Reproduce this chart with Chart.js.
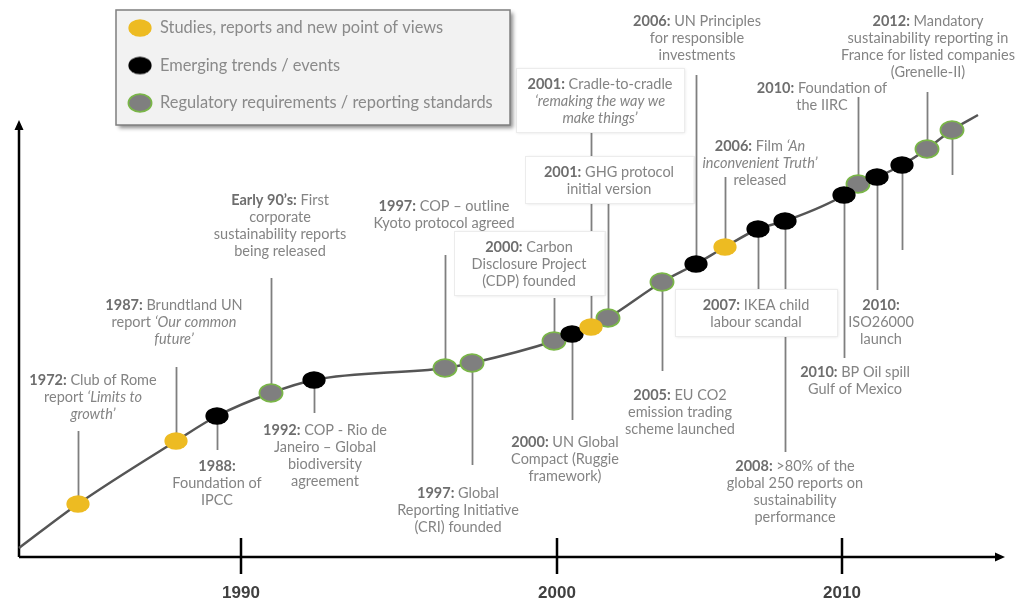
<!DOCTYPE html>
<html><head><meta charset="utf-8">
<script src="https://cdn.jsdelivr.net/npm/chart.js@4.4.1/dist/chart.umd.min.js"></script>
<style>html,body{margin:0;padding:0;background:#fff}#wrap{width:1035px;height:608px;position:relative}</style>
</head><body><div id="wrap"><canvas id="c"></canvas></div>
<script>
// ---------------- DATA ----------------
const categories = [
  'Studies, reports and new point of views',
  'Emerging trends / events',
  'Regulatory requirements / reporting standards'
];
const tickPositions = [222, 538, 823];
const tickLabels = ['1990', '2000', '2010'];

// position along the timeline and level on the curve for each event
const eventPosition = [59,157,198,252,295,426,453,535,553,572,589,643,677,706,739,766,825,839,858,883,908,933];
const eventLevel    = [53,116,141,164,177,189,194,216,223,230,239,275,293,310,328,336,362,373,380,392,408,427];
const eventType     = [0,0,1,2,1,2,2,2,1,0,2,2,1,0,1,1,1,2,1,1,2,2];
const leaderLevel   = [126,190,107,279,144,302,92,259,137,425,354,186,482,380,267,105,199,460,267,307,465,382];
const eventLabel = [
  ['**1972:** Club of Rome', 'report _‘Limits to_', '_growth’_'],
  ['**1987:** Brundtland UN', 'report _‘Our common_', '_future’_'],
  ['**1988:**', 'Foundation of', 'IPCC'],
  ['**Early 90’s:** First', 'corporate', 'sustainability reports', 'being released'],
  ['**1992:** COP - Rio de', 'Janeiro – Global', 'biodiversity', 'agreement'],
  ['**1997:** COP – outline', 'Kyoto protocol agreed'],
  ['**1997:** Global', 'Reporting Initiative', '(CRI) founded'],
  ['**2000:** Carbon', 'Disclosure Project', '(CDP) founded'],
  ['**2000:** UN Global', 'Compact (Ruggie', 'framework)'],
  ['**2001:** Cradle-to-cradle', '_‘remaking the way we_', '_make things’_'],
  ['**2001:** GHG protocol', 'initial version'],
  ['**2005:** EU CO2', 'emission trading', 'scheme launched'],
  ['**2006:** UN Principles', 'for responsible', 'investments'],
  ['**2006:** Film _‘An_', '_inconvenient Truth’_', 'released'],
  ['**2007:** IKEA child', 'labour scandal'],
  ['**2008:** >80% of the', 'global 250 reports on', 'sustainability', 'performance'],
  ['**2010:** BP Oil spill', 'Gulf of Mexico'],
  ['**2010:** Foundation of', 'the IIRC'],
  ['**2010:**', 'ISO26000', 'launch'],
  null,
  ['**2012:** Mandatory', 'sustainability reporting in', 'France for listed companies', '(Grenelle-II)'],
  null
];
const curveStart = [0, 9];
const curveEnd = [959, 442];

// ---------------- LAYOUT / STYLE ----------------
const labelAnchor = [
  [74,177],[155,252],[198,91],[261,357],[306,127],[425,351],[439,64],[510,310],[546,115],
  [581,473],[590,385],[661,162],[678,536],[741,411],[737,252],[776,91],[836,185],[803,469],
  [862,252],null,[909,536],null
];
const labelBoxWidth = {7:151, 9:168, 10:169, 14:162};
const FONT = 'Lato, "Open Sans", sans-serif';
const LINE_H = 17;
const typeFill = ['#EDBB22', '#000000', '#7F7F7F'];
const typeStroke = [null, null, '#7AB648'];

function makeDot(fill, stroke) {
  const c = document.createElement('canvas');
  c.width = 26; c.height = 20;
  const g = c.getContext('2d');
  g.beginPath();
  g.ellipse(13, 10, 11.6, 8.8, 0, 0, Math.PI * 2);
  g.fillStyle = fill; g.fill();
  if (stroke) { g.lineWidth = 1.7; g.strokeStyle = stroke; g.stroke(); }
  return c;
}
const dotImgs = typeFill.map((f, i) => makeDot(f, typeStroke[i]));

function parseRich(lines) {
  let b = false, it = false;
  return lines.map(l => {
    const segs = [];
    l.split(/(\*\*|_)/).forEach(t => {
      if (t === '**') { b = !b; return; }
      if (t === '_') { it = !it; return; }
      if (t) segs.push({ t, b, i: it });
    });
    return segs;
  });
}
function segFont(s) { return (s.i ? 'italic ' : '') + (s.b ? 'bold ' : '') + '14.5px ' + FONT; }
function lineWidth(ctx, segs) { let w = 0; segs.forEach(s => { ctx.font = segFont(s); w += ctx.measureText(s.t).width; }); return w; }

const timelinePlugin = {
  id: 'timeline',
  beforeDatasetsDraw(chart) {
    const { ctx, chartArea: ca, scales: { x, y } } = chart;
    ctx.save();
    // axes
    ctx.strokeStyle = '#000'; ctx.fillStyle = '#000'; ctx.lineWidth = 2.5;
    ctx.beginPath();
    ctx.moveTo(ca.left, ca.bottom); ctx.lineTo(ca.left, ca.top + 8);
    ctx.moveTo(ca.left, ca.bottom); ctx.lineTo(ca.right - 8, ca.bottom);
    tickPositions.forEach(v => { const px = x.getPixelForValue(v); ctx.moveTo(px, ca.bottom - 19); ctx.lineTo(px, ca.bottom + 17); });
    ctx.stroke();
    ctx.beginPath();
    ctx.moveTo(ca.left, ca.top); ctx.lineTo(ca.left - 4.5, ca.top + 10); ctx.lineTo(ca.left + 4.5, ca.top + 10); ctx.closePath();
    ctx.moveTo(ca.right, ca.bottom); ctx.lineTo(ca.right - 10, ca.bottom - 4.5); ctx.lineTo(ca.right - 10, ca.bottom + 4.5); ctx.closePath();
    ctx.fill();
    // leader lines
    ctx.strokeStyle = '#7F7F7F'; ctx.lineWidth = 1.8;
    eventPosition.forEach((p, i) => {
      const px = Math.round(x.getPixelForValue(p)) + 0.5;
      ctx.beginPath();
      ctx.moveTo(px, y.getPixelForValue(eventLevel[i]));
      ctx.lineTo(px, y.getPixelForValue(leaderLevel[i]));
      ctx.stroke();
    });
    // labels
    eventLabel.forEach((lab, i) => {
      if (!lab) return;
      const cx = x.getPixelForValue(labelAnchor[i][0]);
      const cy = y.getPixelForValue(labelAnchor[i][1]);
      const rich = parseRich(lab);
      if (labelBoxWidth[i]) {
        const w = labelBoxWidth[i];
        const top = cy - 16, bot = cy + (rich.length - 1) * LINE_H + 14;
        ctx.save();
        ctx.shadowColor = 'rgba(0,0,0,0.12)'; ctx.shadowBlur = 3; ctx.shadowOffsetX = 1; ctx.shadowOffsetY = 1;
        ctx.fillStyle = '#fff';
        ctx.fillRect(cx - w / 2, top, w, bot - top);
        ctx.restore();
        ctx.strokeStyle = '#ECECEC'; ctx.lineWidth = 1;
        ctx.strokeRect(Math.round(cx - w / 2) + 0.5, Math.round(top) + 0.5, w, Math.round(bot - top));
      }
      ctx.textBaseline = 'middle'; ctx.textAlign = 'left';
      rich.forEach((segs, li) => {
        let sx = cx - lineWidth(ctx, segs) / 2;
        const ly = cy + li * LINE_H;
        segs.forEach(s => {
          ctx.font = segFont(s);
          ctx.fillStyle = s.b ? '#6E6E6E' : '#848484';
          ctx.fillText(s.t, sx, ly);
          sx += ctx.measureText(s.t).width;
        });
      });
    });
    ctx.restore();
  },
  afterDraw(chart) {
    const { ctx } = chart;
    ctx.save();
    // legend box
    ctx.save();
    ctx.shadowColor = 'rgba(0,0,0,0.45)'; ctx.shadowBlur = 4; ctx.shadowOffsetX = 3; ctx.shadowOffsetY = 3;
    ctx.fillStyle = '#F2F2F2';
    ctx.fillRect(116, 10, 394, 115);
    ctx.restore();
    ctx.strokeStyle = '#7F7F7F'; ctx.lineWidth = 1.5;
    ctx.strokeRect(116, 10, 394, 115);
    ctx.font = '16.4px ' + FONT; ctx.fillStyle = '#8A8A8A';
    ctx.textBaseline = 'middle'; ctx.textAlign = 'left';
    categories.forEach((c, i) => {
      const ly = 28 + i * 37.5;
      ctx.drawImage(dotImgs[i], 140 - 13, ly - 10);
      ctx.fillText(c, 160, ly);
    });
    ctx.restore();
  }
};

const curveData = [{ x: curveStart[0], y: curveStart[1] }]
  .concat(eventPosition.map((p, i) => ({ x: p, y: eventLevel[i] })))
  .concat([{ x: curveEnd[0], y: curveEnd[1] }]);

const datasets = [{
  type: 'line', label: 'curve', data: curveData, borderColor: '#555555', borderWidth: 2.5,
  pointRadius: 0, cubicInterpolationMode: 'monotone', fill: false, clip: false, order: 2
}];
categories.forEach((c, k) => {
  datasets.push({
    type: 'scatter', label: c, order: 1, clip: false,
    data: eventPosition.map((p, i) => ({ x: p, y: eventLevel[i], t: eventType[i] })).filter(d => d.t === k),
    pointStyle: dotImgs[k], pointRadius: 10, showLine: false
  });
});

new Chart(document.getElementById('c'), {
  data: { datasets },
  plugins: [timelinePlugin],
  options: {
    responsive: true, maintainAspectRatio: false, animation: false, events: [],
    layout: { padding: { left: 19, right: 30, top: 120, bottom: 0 } },
    plugins: { legend: { display: false }, tooltip: { enabled: false } },
    scales: {
      x: {
        type: 'linear', min: 0, max: 986,
        afterBuildTicks: s => { s.ticks = tickPositions.map(v => ({ value: v })); },
        afterFit: s => { s.height = 51; },
        grid: { display: false, drawTicks: false }, border: { display: false },
        ticks: {
          autoSkip: false, maxRotation: 0, padding: 26, color: '#404040',
          font: { family: '"Liberation Sans", Arial, sans-serif', size: 17, weight: 'bold' },
          callback: v => { const k = tickPositions.indexOf(v); return k >= 0 ? tickLabels[k] : ''; }
        }
      },
      y: { type: 'linear', min: 0, max: 437, display: false }
    }
  }
});
</script>
</body></html>
